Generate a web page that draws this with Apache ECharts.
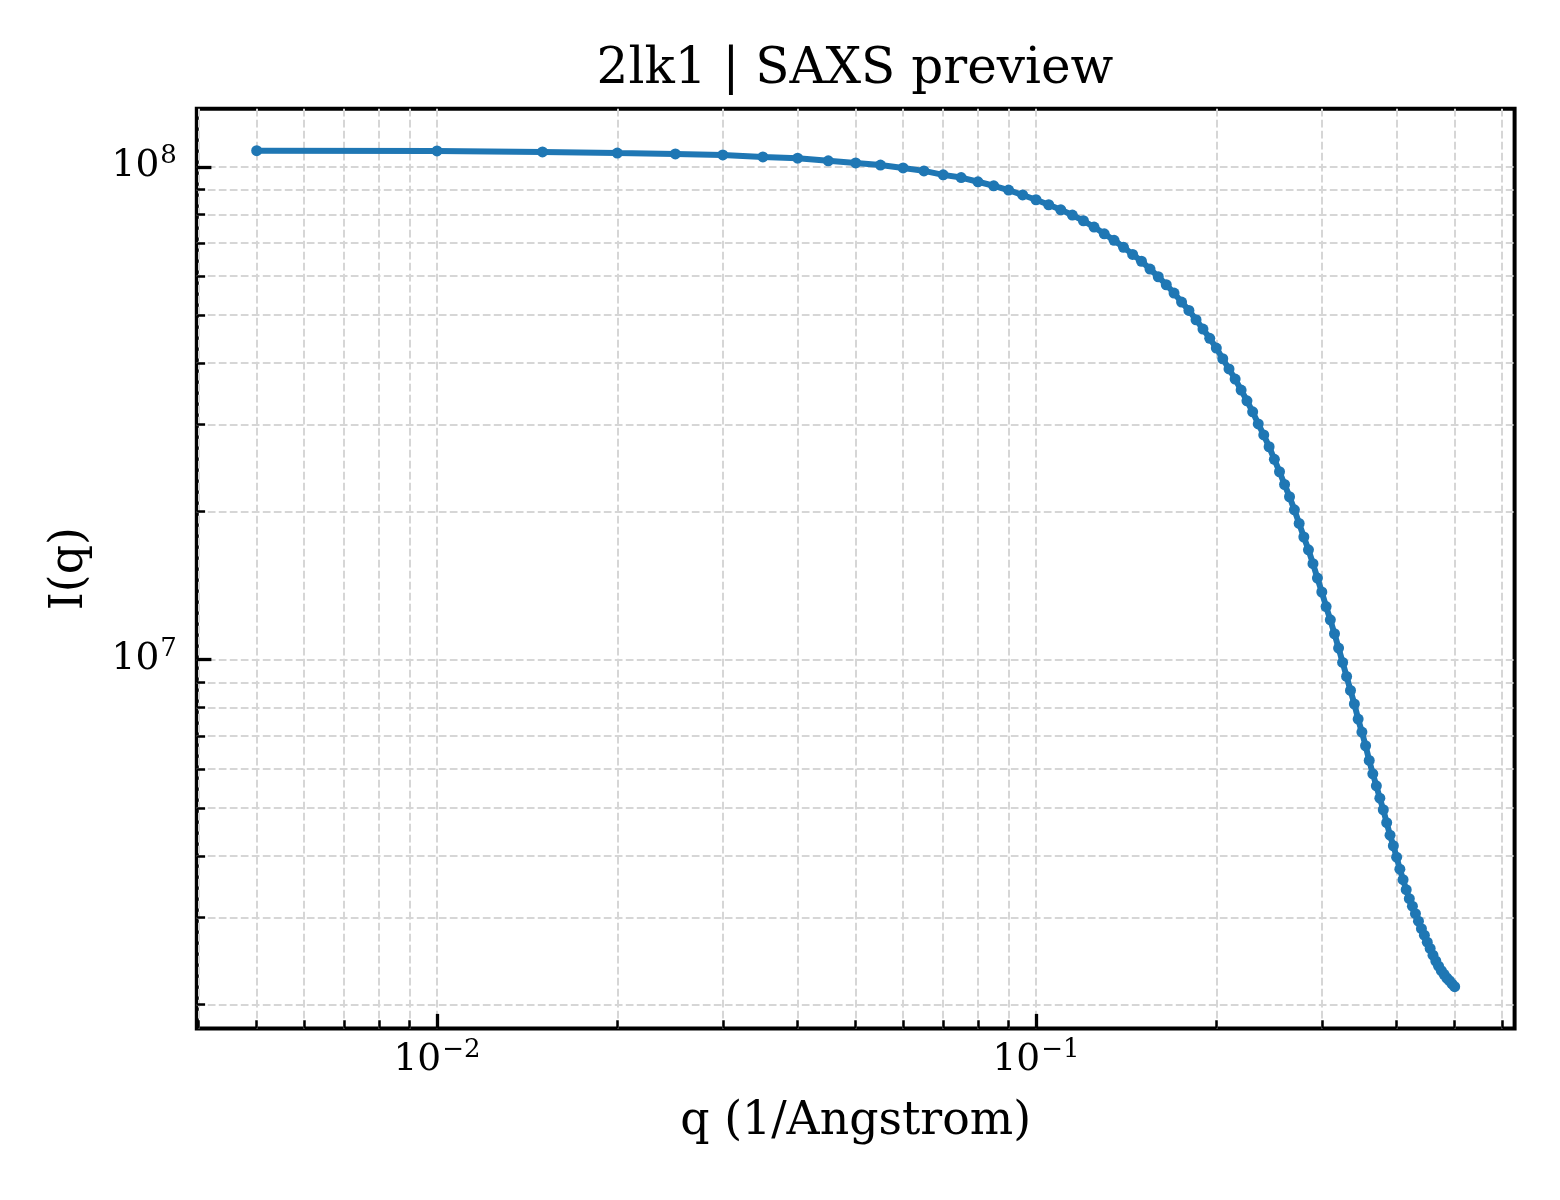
<!DOCTYPE html>
<html><head><meta charset="utf-8">
<script src="https://cdn.jsdelivr.net/npm/echarts@6/dist/echarts.min.js"></script>
<style>html,body{margin:0;padding:0;background:#fff}#c{width:1560px;height:1200px}</style>
</head><body><div id="c"></div>
<script>
const qValues = [
0.005,0.010,0.015,0.020,0.025,0.030,0.035,0.040,0.045,0.050,
0.055,0.060,0.065,0.070,0.075,0.080,0.085,0.090,0.095,0.100,
0.105,0.110,0.115,0.120,0.125,0.130,0.135,0.140,0.145,0.150,
0.155,0.160,0.165,0.170,0.175,0.180,0.185,0.190,0.195,0.200,
0.205,0.210,0.215,0.220,0.225,0.230,0.235,0.240,0.245,0.250,
0.255,0.260,0.265,0.270,0.275,0.280,0.285,0.290,0.295,0.300,
0.305,0.310,0.315,0.320,0.325,0.330,0.335,0.340,0.345,0.350,
0.355,0.360,0.365,0.370,0.375,0.380,0.385,0.390,0.395,0.400,
0.405,0.410,0.415,0.420,0.425,0.430,0.435,0.440,0.445,0.450,
0.455,0.460,0.465,0.470,0.475,0.480,0.485,0.490,0.495,0.500
];
const intensity = [
1.078e8,1.077e8,1.072e8,1.066e8,1.062e8,1.057e8,1.047e8,1.041e8,1.028e8,1.018e8,
1.008e8,9.944e7,9.810e7,9.629e7,9.508e7,9.323e7,9.151e7,8.969e7,8.766e7,8.572e7,
8.374e7,8.180e7,7.981e7,7.771e7,7.546e7,7.313e7,7.094e7,6.866e7,6.639e7,6.432e7,
6.202e7,5.983e7,5.763e7,5.544e7,5.316e7,5.112e7,4.894e7,4.686e7,4.487e7,4.288e7,
4.079e7,3.889e7,3.710e7,3.524e7,3.352e7,3.184e7,3.008e7,2.857e7,2.704e7,2.550e7,
2.406e7,2.267e7,2.141e7,2.014e7,1.890e7,1.774e7,1.671e7,1.566e7,1.464e7,1.372e7,
1.282e7,1.205e7,1.129e7,1.056e7,9.875e6,9.250e6,8.664e6,8.131e6,7.578e6,7.132e6,
6.691e6,6.248e6,5.870e6,5.550e6,5.236e6,4.962e6,4.670e6,4.405e6,4.194e6,3.975e6,
3.759e6,3.579e6,3.415e6,3.275e6,3.162e6,3.053e6,2.948e6,2.847e6,2.762e6,2.673e6,
2.596e6,2.515e6,2.448e6,2.389e6,2.340e6,2.300e6,2.261e6,2.233e6,2.199e6,2.171e6
];
const xMajorTicks = [0.01, 0.1];
const xMinorTicks = [0.004,0.005,0.006,0.007,0.008,0.009,
  0.02,0.03,0.04,0.05,0.06,0.07,0.08,0.09,
  0.2,0.3,0.4,0.5,0.6];
const yMajorTicks = [1e7, 1e8];
const yMinorTicks = [2e6,3e6,4e6,5e6,6e6,7e6,8e6,9e6,
  2e7,3e7,4e7,5e7,6e7,7e7,8e7,9e7];
const titleText = '2lk1 | SAXS preview';
const xLabel = 'q (1/Angstrom)';
const yLabel = 'I(q)';

const X_RANGE = [0.003972, 0.6295];
const Y_RANGE = [1.786e6, 1.311e8];

const FONT = "'DejaVu Serif', serif";
const BLUE = '#1f77b4';
const GRID_RECT = {left: 196.8, top: 108.8, width: 1317.8, height: 919.7};

function powLabel(v) {
  const e = Math.log10(v);
  const r = Math.round(e);
  if (Math.abs(e - r) > 1e-6) return '';
  return '{b|10}{s|' + (r < 0 ? '\u2212' : '') + Math.abs(r) + '}';
}
const labelRich = {
  b: {fontFamily: FONT, fontSize: 37.5, lineHeight: 37.5, color: '#000', verticalAlign: 'bottom'},
  s: {fontFamily: FONT, fontSize: 26, lineHeight: 26, color: '#000', verticalAlign: 'bottom', padding: [0, 0, 16, 1]}
};

const allX = xMinorTicks.concat(xMajorTicks).sort((a, b) => a - b);
const allY = yMinorTicks.concat(yMajorTicks).sort((a, b) => a - b);

const gridLine = {show: true, lineStyle: {color: '#d6d6d6', width: 2, type: [7.7, 3.3]}};

const chart = echarts.init(document.getElementById('c'), null, {renderer: 'canvas'});
chart.setOption({
  animation: false,
  backgroundColor: '#fff',
  title: {
    text: titleText, left: 850, top: 40, textAlign: 'center',
    textStyle: {fontFamily: FONT, fontSize: 50, fontWeight: 'normal', color: '#000'}
  },
  grid: [
    Object.assign({show: true, borderColor: '#000', borderWidth: 4, backgroundColor: 'transparent', containLabel: false}, GRID_RECT),
    Object.assign({show: false, containLabel: false}, GRID_RECT)
  ],
  xAxis: [
    {
      type: 'log', gridIndex: 0, position: 'bottom', min: X_RANGE[0], max: X_RANGE[1],
      axisLine: {show: false},
      axisTick: {show: true, inside: true, length: 8.3, customValues: allX, lineStyle: {color: '#000', width: 2.5}},
      axisLabel: {show: false},
      splitLine: gridLine
    },
    {
      type: 'log', gridIndex: 1, position: 'bottom', min: X_RANGE[0], max: X_RANGE[1],
      axisLine: {show: false},
      axisTick: {show: true, inside: true, length: 14.6, customValues: xMajorTicks, lineStyle: {color: '#000', width: 3.3}},
      axisLabel: {show: true, customValues: xMajorTicks, margin: 13, formatter: powLabel, rich: labelRich},
      splitLine: {show: false},
      name: xLabel, nameLocation: 'middle', nameGap: 71,
      nameTextStyle: {fontFamily: FONT, fontSize: 45.8, color: '#000'}
    }
  ],
  yAxis: [
    {
      type: 'log', gridIndex: 0, position: 'left', min: Y_RANGE[0], max: Y_RANGE[1],
      axisLine: {show: false},
      axisTick: {show: true, inside: true, length: 8.3, customValues: allY, lineStyle: {color: '#000', width: 2.5}},
      axisLabel: {show: false},
      splitLine: gridLine
    },
    {
      type: 'log', gridIndex: 1, position: 'left', min: Y_RANGE[0], max: Y_RANGE[1],
      axisLine: {show: false},
      axisTick: {show: true, inside: true, length: 14.6, customValues: yMajorTicks, lineStyle: {color: '#000', width: 3.3}},
      axisLabel: {show: true, customValues: yMajorTicks, margin: 20, formatter: powLabel, rich: labelRich},
      splitLine: {show: false},
      name: yLabel, nameLocation: 'middle', nameGap: 104, nameRotate: 90,
      nameTextStyle: {fontFamily: FONT, fontSize: 45.8, color: '#000'}
    }
  ],
  series: [{
    type: 'line',
    xAxisIndex: 0, yAxisIndex: 0,
    data: qValues.map((q, i) => [q, intensity[i]]),
    showSymbol: true, showAllSymbol: true,
    symbol: 'circle', symbolSize: 11,
    itemStyle: {color: BLUE, borderWidth: 0},
    lineStyle: {color: BLUE, width: 6},
    z: 5
  }]
});
</script>
</body></html>
